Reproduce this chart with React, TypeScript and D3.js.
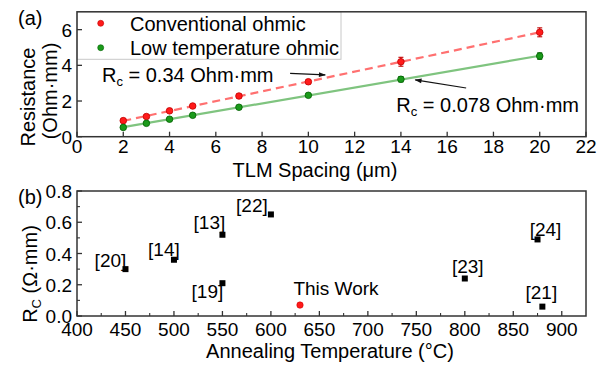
import * as d3 from 'd3'

// (a) TLM data
const spacing = [2, 3, 4, 5, 7, 10, 14, 20]
const convR = [0.9, 1.13, 1.45, 1.72, 2.28, 3.08, 4.2, 5.85]
const convErr = [0.06, 0.06, 0.07, 0.08, 0.1, 0.12, 0.25, 0.25]
const lowR = [0.52, 0.75, 0.98, 1.2, 1.65, 2.32, 3.22, 4.52]
const lowErr = [0.05, 0.05, 0.06, 0.06, 0.08, 0.1, 0.15, 0.18]
const xTicksA = [0, 2, 4, 6, 8, 10, 12, 14, 16, 18, 20, 22]
const yTicksA = [0, 2, 4, 6]

// (b) literature comparison
const refLabels = ['[20]', '[14]', '[13]', '[19]', '[22]', '[23]', '[24]', '[21]']
const refTemp = [450, 500, 550, 550, 600, 800, 875, 880]
const refRc = [0.3, 0.36, 0.52, 0.21, 0.65, 0.24, 0.49, 0.06]
const thisWorkTemp = [630]
const thisWorkRc = [0.07]
const xTicksB = [400, 450, 500, 550, 600, 650, 700, 750, 800, 850, 900]
const yTicksB = [0, 0.2, 0.4, 0.6, 0.8]

// label offsets (px) for the reference tags
const refLabelOffset: [number, number][] = [
  [-15, -2], [-10, -4], [-13, -6], [-15, 15], [-19, -2], [3, -6], [8, -3], [-1, -8],
]

const FONT = 'Liberation Sans, Arial, sans-serif'

function fit(xs: number[], ys: number[]) {
  const mx = d3.mean(xs)!
  const my = d3.mean(ys)!
  const sxy = d3.sum(xs, (x, i) => (x - mx) * (ys[i] - my))
  const sxx = d3.sum(xs, x => (x - mx) ** 2)
  const k = sxy / sxx
  return (x: number) => my + k * (x - mx)
}

export default function App() {
  const left = 77
  const right = 586

  // panel a
  const xA = d3.scaleLinear().domain([0, 22]).range([left, right])
  const yA = d3.scaleLinear().domain([0, 7]).range([136.7, 11.8])
  // panel b
  const xB = d3.scaleLinear().domain([400, 925]).range([left, right])
  const yB = d3.scaleLinear().domain([0, 0.8]).range([316, 191])

  const convFit = fit(spacing, convR)
  const lowFit = fit(spacing, lowR)
  const x0 = d3.min(spacing)!
  const x1 = d3.max(spacing)!

  const series = [
    { y: convR, err: convErr, fill: '#ff1a1a', stroke: '#c00000', line: '#ff7070', dash: '8,5', f: convFit },
    { y: lowR, err: lowErr, fill: '#1a9a1a', stroke: '#006000', line: '#7fc47f', dash: '', f: lowFit },
  ]

  const minorB = d3.range(425, 925, 50)
  const minorYB = d3.range(0.1, 0.8, 0.2)

  return (
    <div style={{ position: 'absolute', left: 0, top: 0 }}>
      <svg width={604} height={366} fontFamily={FONT}>
        <defs>
          <marker id="arr" viewBox="0 0 10 10" refX="9" refY="5" markerWidth="9" markerHeight="7" orient="auto" markerUnits="userSpaceOnUse">
            <path d="M0,1.5 L10,5 L0,8.5 z" fill="#111" />
          </marker>
        </defs>
        <rect width={604} height={366} fill="#fff" />

        {/* ---------- panel (a) ---------- */}
        <text x={18} y={25} fontSize={20}>(a)</text>

        {/* legend box */}
        <rect x={left} y={yA(7)} width={264} height={47.5} fill="#fff" stroke="#c8c8c8" strokeWidth={1} />
        <circle cx={100.7} cy={23.3} r={3} fill="#ff1a1a" stroke="#c00000" strokeWidth={0.6} />
        <text x={130} y={30.5} fontSize={20}>Conventional ohmic</text>
        <circle cx={100.7} cy={47.7} r={3} fill="#1a9a1a" stroke="#006000" strokeWidth={0.6} />
        <text x={130} y={55} fontSize={20}>Low temperature ohmic</text>

        {series.map((s, si) => (
          <g key={si}>
            <line x1={xA(x0)} y1={yA(s.f(x0))} x2={xA(x1)} y2={yA(s.f(x1))}
              stroke={s.line} strokeWidth={2.2} strokeDasharray={s.dash || undefined} />
            {spacing.map((x, i) => (
              <g key={i} stroke={s.stroke} strokeWidth={1.1}>
                <line x1={xA(x)} x2={xA(x)} y1={yA(s.y[i] - s.err[i])} y2={yA(s.y[i] + s.err[i])} />
                <line x1={xA(x) - 2.5} x2={xA(x) + 2.5} y1={yA(s.y[i] - s.err[i])} y2={yA(s.y[i] - s.err[i])} />
                <line x1={xA(x) - 2.5} x2={xA(x) + 2.5} y1={yA(s.y[i] + s.err[i])} y2={yA(s.y[i] + s.err[i])} />
                <circle cx={xA(x)} cy={yA(s.y[i])} r={3.3} fill={s.fill} strokeWidth={0.8} />
              </g>
            ))}
          </g>
        ))}

        {/* annotations */}
        <text x={xA(1.08)} y={yA(3.06)} fontSize={20}>
          R<tspan fontSize={13} dy={4}>c</tspan><tspan dy={-4}> = 0.34 Ohm·mm</tspan>
        </text>
        <line x1={xA(9.21)} y1={yA(3.55)} x2={xA(10.73)} y2={yA(3.46)} stroke="#111" strokeWidth={1.2} markerEnd="url(#arr)" />
        <text x={xA(13.8)} y={yA(1.38)} fontSize={20}>
          R<tspan fontSize={13} dy={4}>c</tspan><tspan dy={-4}> = 0.078 Ohm·mm</tspan>
        </text>
        <line x1={xA(16.82)} y1={yA(2.73)} x2={xA(14.62)} y2={yA(3.18)} stroke="#111" strokeWidth={1.2} markerEnd="url(#arr)" />

        {/* axes a */}
        {xTicksA.map(t => (
          <g key={t}>
            <line x1={xA(t)} x2={xA(t)} y1={yA(0)} y2={yA(0) - 5} stroke="#333" strokeWidth={1.3} />
            <text x={xA(t)} y={153} fontSize={19} textAnchor="middle">{t}</text>
          </g>
        ))}
        {yTicksA.map(t => (
          <g key={t}>
            <line x1={left} x2={left + 5} y1={yA(t)} y2={yA(t)} stroke="#333" strokeWidth={1.3} />
            <text x={72} y={yA(t) + 7} fontSize={19} textAnchor="end">{t}</text>
          </g>
        ))}
        <rect x={left} y={yA(7)} width={right - left} height={yA(0) - yA(7)} fill="none" stroke="#333" strokeWidth={1.5} />
        <text x={315} y={177} fontSize={20} textAnchor="middle">TLM Spacing (μm)</text>
        <text transform="translate(35,97) rotate(-90)" fontSize={20} textAnchor="middle">Resistance</text>
        <text transform="translate(57,91) rotate(-90)" fontSize={20} textAnchor="middle">(Ohm·mm)</text>

        {/* ---------- panel (b) ---------- */}
        <text x={18} y={204} fontSize={20}>(b)</text>

        {refTemp.map((t, i) => (
          <g key={i}>
            <rect x={xB(t) - 3} y={yB(refRc[i]) - 3} width={6} height={6} fill="#000" />
            <text x={xB(t) + refLabelOffset[i][0]} y={yB(refRc[i]) + refLabelOffset[i][1]} fontSize={19} textAnchor="middle">
              {refLabels[i]}
            </text>
          </g>
        ))}
        {thisWorkTemp.map((t, i) => (
          <g key={i}>
            <circle cx={xB(t)} cy={yB(thisWorkRc[i])} r={3.2} fill="#ff1a1a" stroke="#d00000" strokeWidth={0.6} />
            <text x={xB(t) + 36} y={yB(thisWorkRc[i]) - 10} fontSize={19} textAnchor="middle">This Work</text>
          </g>
        ))}

        {xTicksB.map(t => (
          <g key={t}>
            <line x1={xB(t)} x2={xB(t)} y1={yB(0)} y2={yB(0) - 5} stroke="#333" strokeWidth={1.3} />
            <text x={xB(t)} y={336} fontSize={19} textAnchor="middle">{t}</text>
          </g>
        ))}
        {minorB.map(t => (
          <line key={t} x1={xB(t)} x2={xB(t)} y1={yB(0)} y2={yB(0) - 3} stroke="#333" strokeWidth={1.1} />
        ))}
        {yTicksB.map(t => (
          <g key={t}>
            <line x1={left} x2={left + 5} y1={yB(t)} y2={yB(t)} stroke="#333" strokeWidth={1.3} />
            <text x={72} y={yB(t) + 7} fontSize={19} textAnchor="end">{t.toFixed(1)}</text>
          </g>
        ))}
        {minorYB.map(t => (
          <line key={t} x1={left} x2={left + 3} y1={yB(t)} y2={yB(t)} stroke="#333" strokeWidth={1.1} />
        ))}
        <rect x={left} y={yB(0.8)} width={right - left} height={yB(0) - yB(0.8)} fill="none" stroke="#333" strokeWidth={1.5} />
        <text x={330} y={358} fontSize={20} textAnchor="middle">Annealing Temperature (°C)</text>
        <text transform="translate(37,274) rotate(-90)" fontSize={20} textAnchor="middle">
          R<tspan fontSize={13} dy={4}>C</tspan><tspan dy={-4}> (Ω·mm)</tspan>
        </text>
      </svg>
    </div>
  )
}
